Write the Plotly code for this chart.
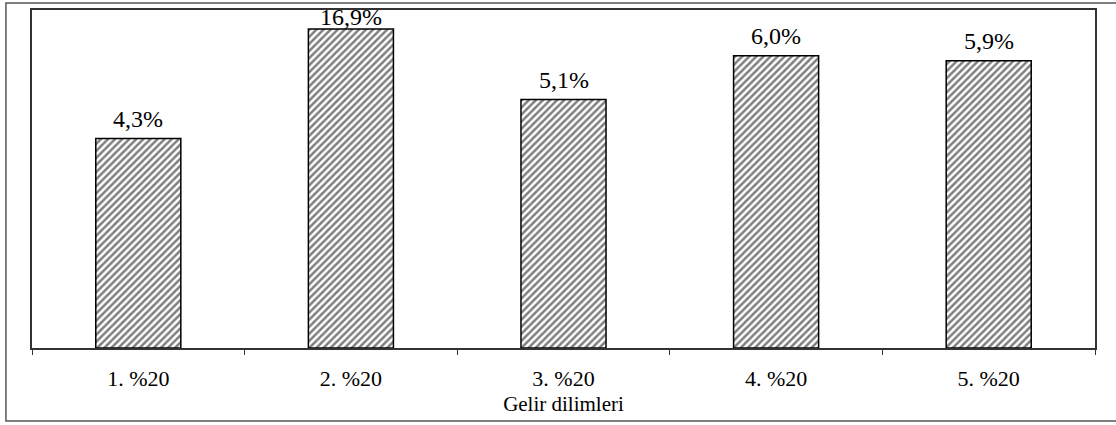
import plotly.graph_objects as go

categories = ["1. %20", "2. %20", "3. %20", "4. %20", "5. %20"]
# bar heights as drawn in the picture (percent units)
bar_heights = [4.3, 6.55, 5.1, 6.0, 5.9]
# value labels printed above each bar
value_labels = ["4,3%", "16,9%", "5,1%", "6,0%", "5,9%"]
x_title = "Gelir dilimleri"

# vertical offset (px) of each value label above its bar
label_offsets = [5, -3, 5, 5, 5]

FONT = "Liberation Serif, Times New Roman, serif"

fig = go.Figure()
fig.add_trace(go.Bar(
    x=categories,
    y=bar_heights,
    width=0.4,
    marker=dict(
        color="white",
        line=dict(color="black", width=1.5),
        pattern=dict(shape="/", fgcolor="black", bgcolor="white", size=5, solidity=0.5),
    ),
    hoverinfo="skip",
))

for c, h, t, off in zip(categories, bar_heights, value_labels, label_offsets):
    fig.add_annotation(
        x=c, y=h, text=t, showarrow=False, xanchor="center", yanchor="bottom",
        yshift=off, font=dict(family=FONT, size=24, color="black"),
    )

# outer chart border
fig.add_shape(type="rect", xref="paper", yref="paper",
              x0=-0.0245, x1=1.03, y0=-0.2158, y1=1.0206,
              line=dict(color="#555555", width=1.5), fillcolor="rgba(0,0,0,0)", layer="below")

fig.update_layout(
    width=1116, height=425,
    margin=dict(l=32, r=21, t=8, b=77),
    paper_bgcolor="white", plot_bgcolor="white",
    showlegend=False,
    bargap=0.6,
    font=dict(family=FONT, color="black"),
    xaxis=dict(
        type="category",
        showline=True, linecolor="#333333", linewidth=1.5, mirror=True,
        ticks="outside", tickson="boundaries", ticklen=5, tickcolor="#333333", tickwidth=1,
        ticklabelstandoff=10,
        tickfont=dict(family=FONT, size=22, color="black"),
        title=dict(text=x_title, font=dict(family=FONT, size=21, color="black"), standoff=6),
        showgrid=False, fixedrange=True,
    ),
    yaxis=dict(
        range=[0, 6.94],
        showline=True, linecolor="#333333", linewidth=1.5, mirror=True,
        showticklabels=False, ticks="", showgrid=False, zeroline=False, fixedrange=True,
    ),
)

fig.write_html("out.html", config={"displayModeBar": False},
               post_script="document.body.style.margin='0';document.body.style.overflow='hidden';")
